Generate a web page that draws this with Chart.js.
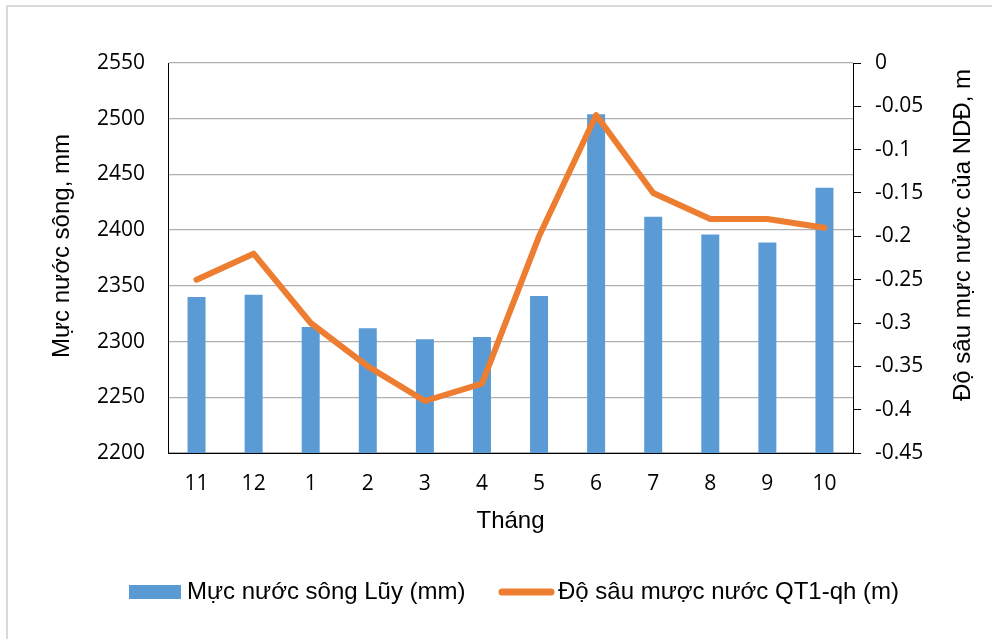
<!DOCTYPE html>
<html>
<head>
<meta charset="utf-8">
<script src="https://cdn.jsdelivr.net/npm/chart.js@4"></script>
<style>
  html, body { margin: 0; padding: 0; background: #fff; }
  #wrap { position: relative; width: 992px; height: 639px; }
  #frame { position: absolute; left: 6px; top: 5px; width: 1100px; height: 700px; border: 2px solid #d9d9d9; box-sizing: border-box; }
  #myChart { position: absolute; left: 0; top: 0; }
</style>
</head>
<body>
<div id="wrap">
  <div id="frame"></div>
  <canvas id="myChart" width="992" height="639"></canvas>
</div>
<script>
// thang trong nam thuy van (11 -> 10)
const months = ['11', '12', '1', '2', '3', '4', '5', '6', '7', '8', '9', '10'];
// muc nuoc song Luy, mm
const riverLevel = [2340, 2342, 2313, 2312, 2302, 2304, 2341, 2504, 2412, 2396, 2389, 2438];
// do sau muc nuoc QT1-qh, m
const wellDepth = [-0.25, -0.22, -0.30, -0.35, -0.39, -0.37, -0.20, -0.06, -0.15, -0.18, -0.18, -0.19];

const leftTicks = { min: 2200, max: 2550, step: 50 };
const rightTicks = { min: -0.45, max: 0, step: 0.05 };

const barLabel = 'Mực nước sông Lũy (mm)';
const lineLabel = 'Độ sâu mược nước QT1-qh (m)';
const leftTitle = 'Mực nước sông, mm';
const rightTitle = 'Độ sâu mực nước của NDĐ, m';
const xTitle = 'Tháng';

const blue = '#5B9BD5';
const orange = '#ED7D31';
const tickFont = { family: 'Open Sans', size: 21 };
const titleFont = '24px "Liberation Sans", Arial, sans-serif';

// legend + titles drawn by hand (Excel style)
const extras = {
  id: 'extras',
  afterDraw(chart) {
    const ctx = chart.ctx;
    const ds = chart.data.datasets;
    ctx.save();
    ctx.fillStyle = '#000';
    ctx.font = titleFont;
    ctx.textAlign = 'center';
    ctx.textBaseline = 'middle';
    // left title
    ctx.save();
    ctx.translate(62, 246);
    ctx.rotate(-Math.PI / 2);
    ctx.fillText(leftTitle, 0, 0);
    ctx.restore();
    // right title
    ctx.save();
    ctx.translate(963, 235);
    ctx.rotate(-Math.PI / 2);
    ctx.fillText(rightTitle, 0, 0);
    ctx.restore();

    // legend
    ctx.textAlign = 'left';
    ctx.fillStyle = ds[0].backgroundColor;
    ctx.fillRect(129, 585, 52, 14);
    ctx.fillStyle = '#000';
    ctx.fillText(ds[0].label, 187, 592);
    ctx.strokeStyle = ds[1].borderColor;
    ctx.lineWidth = 7;
    ctx.lineCap = 'round';
    ctx.beginPath();
    ctx.moveTo(502, 592);
    ctx.lineTo(551, 592);
    ctx.stroke();
    ctx.fillText(ds[1].label, 558, 592);
    ctx.restore();
  }
};

let ctx = document.getElementById('myChart').getContext('2d');
let chart = new Chart(ctx, {
  data: {
    labels: months,
    datasets: [
      {
        type: 'bar',
        label: barLabel,
        data: riverLevel,
        backgroundColor: blue,
        barPercentage: 0.315,
        categoryPercentage: 1,
        yAxisID: 'y',
        order: 1
      },
      {
        type: 'line',
        label: lineLabel,
        data: wellDepth,
        borderColor: orange,
        backgroundColor: orange,
        borderWidth: 6,
        borderCapStyle: 'round',
        borderJoinStyle: 'round',
        pointRadius: 0,
        tension: 0,
        yAxisID: 'y1',
        order: 0
      }
    ]
  },
  options: {
    responsive: false,
    animation: false,
    layout: { padding: { top: 63, left: 0, right: 0, bottom: 0 } },
    plugins: {
      legend: { display: false },
      tooltip: { enabled: false }
    },
    scales: {
      x: {
        grid: { display: false, drawTicks: false },
        border: { display: true, color: '#000', width: 1 },
        ticks: { color: '#000', font: tickFont, padding: 18, maxRotation: 0 },
        title: {
          display: true, text: xTitle, color: '#000',
          font: { family: 'Liberation Sans', size: 24 },
          padding: { top: 0, bottom: 103 }
        },
        afterFit(scale) { scale.height = 186; }
      },
      y: {
        position: 'left',
        min: leftTicks.min,
        max: leftTicks.max,
        grid: { color: '#B0B0B0', lineWidth: 1.3, drawTicks: false },
        border: { display: true, color: '#000', width: 1 },
        ticks: {
          stepSize: leftTicks.step, color: '#000', font: tickFont, padding: 23,
          callback: function (v) { return String(v); }
        },
        afterFit(scale) { scale.width = 168; }
      },
      y1: {
        position: 'right',
        min: rightTicks.min,
        max: rightTicks.max,
        grid: { drawOnChartArea: false, drawTicks: true, tickLength: 8, color: '#000' },
        border: { display: true, color: '#000', width: 1 },
        ticks: {
          stepSize: rightTicks.step, color: '#000', font: tickFont, padding: 14,
          callback: function (v) { return String(Number(v.toFixed(2))); }
        },
        afterFit(scale) { scale.width = 139; }
      }
    }
  },
  plugins: [extras]
});
</script>
</body>
</html>
